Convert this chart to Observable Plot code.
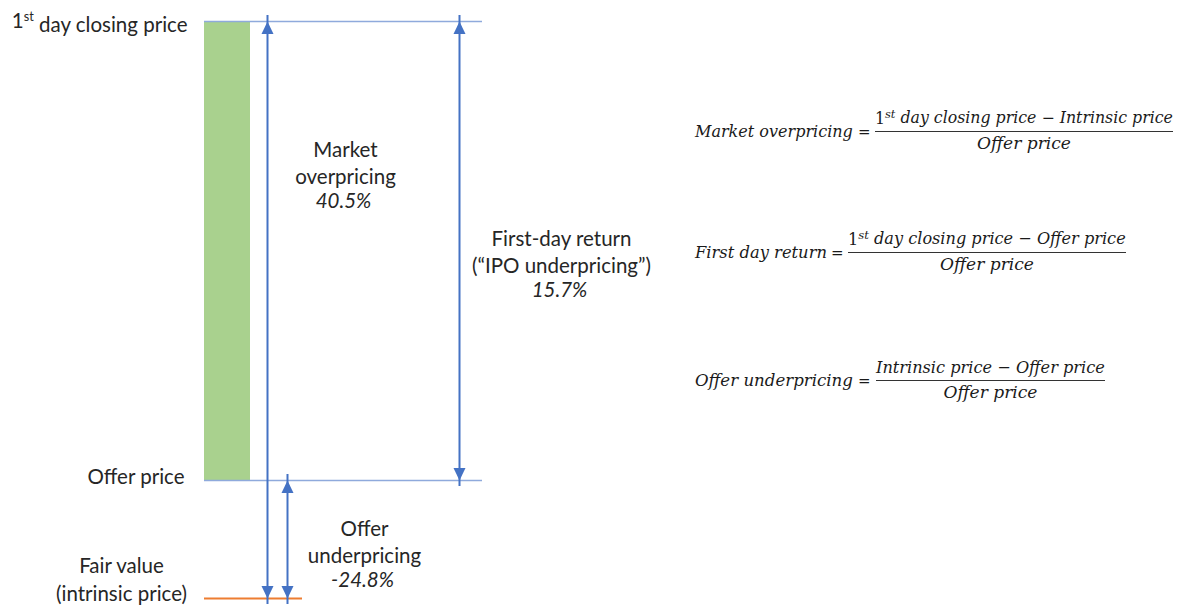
<!DOCTYPE html>
<html><head><meta charset="utf-8">
<script src="https://cdn.jsdelivr.net/npm/d3@7"></script>
<script src="https://cdn.jsdelivr.net/npm/@observablehq/plot@0.6"></script>
<style>
body{margin:0;background:#fff}
#chart svg{display:block}
</style>
</head><body><div id="chart"></div>
<script>
// ---- data (prices relative to the offer price) ----
const levelNames = ["1st day closing price", "Offer price", "Fair value\n(intrinsic price)"];
const levelPrices = [1.157, 1.0, 0.752];
const measureNames = ["Market\noverpricing", "First-day return\n(“IPO underpricing”)", "Offer\nunderpricing"];
const measureValues = [40.5, 15.7, -24.8];
const measureFrom = [0.752, 1.0, 0.752];
const measureTo = [1.157, 1.157, 1.0];
const formulaNames = ["Market overpricing", "First day return", "Offer underpricing"];
const formulaNumerators = [["1st day closing price", "Intrinsic price"], ["1st day closing price", "Offer price"], ["Intrinsic price", "Offer price"]];
const formulaDenominators = ["Offer price", "Offer price", "Offer price"];

// ---- layout ----
const [closing, offer, fair] = levelPrices;
// the schematic is not drawn to scale: a piecewise warp places each price level
const warp = d3.scaleLinear().domain([fair, offer, closing]).range([598, 480, 21]);
const arrowX = [267, 459, 287];
const labelX = [345, 561, 364];
const labelTop = [148, 237, 527];
const lineGap = 27;
const formulaLayout = [
  {lhs0: 695, lhs1: 853, eq: 858, x1: 875, x2: 1173, lineY: 131.5},
  {lhs0: 695, lhs1: 827, eq: 831, x1: 848, x2: 1126, lineY: 252.5},
  {lhs0: 695, lhs1: 853, eq: 858, x1: 876, x2: 1105, lineY: 380.5}
];
const BLUE = "#4472C4", TXT = "#262626", FONT = "Lato, 'Open Sans', sans-serif", FS = 20.5;

const arrows = measureNames.map((name, i) => ({name, x: arrowX[i], from: measureFrom[i], to: measureTo[i]}));
const upHeads = arrows.map(a => ({x: a.x, y: a.to}));
const downHeads = arrows.map(a => ({x: a.x, y: a.from}));

// arrow head with its tip at the anchor point
const head = {draw(context) { context.moveTo(0, 0); context.lineTo(-6, 12.5); context.lineTo(6, 12.5); context.closePath(); }};

const labelMarks = [];
measureNames.forEach((name, i) => {
  labelMarks.push(Plot.text([name], {x: labelX[i], frameAnchor: "top", dy: labelTop[i] + lineGap / 2, text: d => d,
    lineAnchor: "middle", lineHeight: lineGap / FS, fontSize: FS, fill: TXT, fontFamily: FONT}));
  labelMarks.push(Plot.text([`${measureValues[i].toFixed(1)}%`], {x: labelX[i] - 2, frameAnchor: "top", dy: labelTop[i] + 2 * lineGap - 1, text: d => d,
    lineAnchor: "middle", fontSize: FS, fontStyle: "italic", fill: TXT, fontFamily: FONT}));
});

function formulas() {
  const g = d3.create("svg:g")
    .attr("font-family", "'DejaVu Serif', 'Liberation Serif', serif")
    .attr("text-anchor", "start")
    .attr("font-size", 15).attr("fill", "#1a1a1a");
  formulaLayout.forEach((L, i) => {
    g.append("text").attr("class", "fit").attr("data-w", L.lhs1 - L.lhs0)
      .attr("x", L.lhs0).attr("y", L.lineY + 5.5).attr("font-style", "italic").text(formulaNames[i]);
    g.append("text").attr("x", L.eq).attr("y", L.lineY + 5.5).text("=");
    const num = g.append("text").attr("class", "fit").attr("data-w", L.x2 - L.x1)
      .attr("x", L.x1).attr("y", L.lineY - 8);
    formulaNumerators[i].forEach((part, j) => {
      if (j > 0) num.append("tspan").text(" − ");
      const m = part.match(/^1st (.*)$/);
      if (m) {
        num.append("tspan").text("1");
        num.append("tspan").attr("font-style", "italic").attr("font-size", "0.72em").attr("dy", "-0.45em").text("st");
        num.append("tspan").attr("font-style", "italic").attr("dy", "0.32em").text(" " + m[1]);
      } else {
        num.append("tspan").attr("font-style", "italic").text(part);
      }
    });
    g.append("line").attr("x1", L.x1).attr("x2", L.x2).attr("y1", L.lineY).attr("y2", L.lineY)
      .attr("stroke", "#333").attr("stroke-width", 1.2);
    g.append("text").attr("class", "fit").attr("data-w", 94)
      .attr("x", (L.x1 + L.x2) / 2 - 47).attr("y", L.lineY + 17.5).attr("font-style", "italic")
      .text(formulaDenominators[i]);
  });
  return g.node();
}

const chart = Plot.plot({
  width: 1184, height: 607, margin: 0,
  style: {background: "#fff", color: TXT},
  x: {domain: [0, 1184], axis: null},
  y: {transform: warp, domain: [607, 0], axis: null},
  marks: [
    Plot.rect([{from: offer, to: closing}], {x1: 204, x2: 250, y1: "from", y2: "to", fill: "#A9D18E"}),
    Plot.ruleY([closing, offer], {x1: 204, x2: 482, stroke: "#8FAADC", strokeWidth: 1.4}),
    Plot.ruleY([fair], {x1: 204, x2: 302, stroke: "#ED7D31", strokeWidth: 2}),
    Plot.ruleX(arrows, {x: "x", y1: "from", y2: "to", stroke: BLUE, strokeWidth: 2, insetTop: 6, insetBottom: 6}),
    Plot.dot(upHeads, {x: "x", y: "y", symbol: head, fill: BLUE, stroke: "none"}),
    Plot.dot(downHeads, {x: "x", y: "y", symbol: head, fill: BLUE, stroke: "none", rotate: 180}),
    Plot.text([levelNames[0]], {x: 187, y: closing, text: d => d, textAnchor: "end", fontSize: FS, fill: TXT, fontFamily: FONT}),
    Plot.text([levelNames[1]], {x: 184, y: offer, dy: -3, text: d => d, textAnchor: "end", fontSize: FS, fill: TXT, fontFamily: FONT}),
    Plot.text([levelNames[2]], {x: 121, y: fair, dy: -20, text: d => d, lineAnchor: "middle", lineHeight: 28 / FS, fontSize: FS, fill: TXT, fontFamily: FONT}),
    ...labelMarks,
    formulas
  ]
});
document.getElementById("chart").append(chart);

// fit each formula piece to the width it has in the reference
d3.select(chart).selectAll("text.fit").each(function() {
  const target = +this.getAttribute("data-w");
  const w = this.getComputedTextLength();
  if (w > 0) this.setAttribute("font-size", (15 * target / w).toFixed(2));
});

// superscript "st" in the level label
d3.select(chart).selectAll("text").each(function() {
  if (this.childElementCount === 0 && /^1st /.test(this.textContent)) {
    const rest = this.textContent.slice(4);
    const t = d3.select(this).text("");
    t.append("tspan").text("1");
    t.append("tspan").attr("font-size", "0.62em").attr("dy", "-0.55em").text("st");
    t.append("tspan").attr("dy", "0.55em").text(" " + rest);
  }
});
</script>
</body></html>
